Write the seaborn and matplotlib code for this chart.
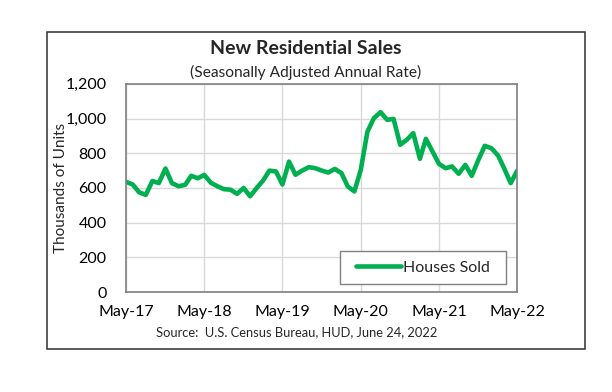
# Продажи нового жилья: линия по месяцам, май 2017 - май 2022

import numpy as np
import pandas as pd
import matplotlib
matplotlib.use('Agg')
import matplotlib.pyplot as plt
import matplotlib.dates as mdates
from matplotlib.patches import Rectangle
import seaborn as sns

# ДАННЫЕ (тыс. единиц, SAAR)
months = pd.date_range('2017-05-01', '2022-05-01', freq='MS')
houses_sold = [635, 620, 575, 560, 640, 628, 712, 628, 610, 618, 670, 656,
               675, 630, 610, 593, 590, 566, 600, 552, 600, 645, 700, 695,
               620, 752, 676, 700, 720, 714, 700, 689, 710, 685, 609, 580,
               705, 925, 1002, 1037, 993, 998, 849, 877, 916, 768, 883, 810,
               739, 714, 724, 682, 733, 670, 762, 843, 829, 787, 714, 628,
               699]
y_ticks = [0, 200, 400, 600, 800, 1000, 1200]
x_ticks = pd.date_range('2017-05-01', '2022-05-01', freq='12MS')

df = pd.DataFrame({'month': months, 'Houses Sold': houses_sold})

sns.set_style('white')
plt.rcParams['font.family'] = ['Lato', 'DejaVu Sans']

fig = plt.figure(figsize=(6.12, 3.92), dpi=100)
ax = fig.add_axes([0.206, 0.255, 0.639, 0.531])

sns.lineplot(data=df, x='month', y='Houses Sold', ax=ax, color='#00B050',
             linewidth=3.3, label='Houses Sold')

ax.set_ylim(0, 1200)
ax.set_yticks(y_ticks)
ax.set_yticklabels([f'{v:,}' for v in y_ticks])
ax.set_xlim(months[0], months[-1])
ax.set_xticks(x_ticks)
ax.xaxis.set_major_formatter(mdates.DateFormatter('%b-%y'))
ax.tick_params(axis='both', labelsize=11.5, length=0, colors='black')
ax.tick_params(axis='y', pad=14)
ax.tick_params(axis='x', pad=9)
ax.grid(True, color='#d9d9d9', linewidth=1)
for s in ax.spines.values():
    s.set_color('#808080')
    s.set_linewidth(1.2)
ax.set_xlabel('')
ax.set_ylabel('Thousands of Units', fontsize=11)
ax.yaxis.set_label_coords(-0.148, 0.5)

leg = ax.legend(loc='lower left', bbox_to_anchor=(0.547, 0.038, 0.425, 0.15),
                mode='expand', borderaxespad=0, fontsize=11.5,
                handlelength=2.8, handletextpad=0.1, borderpad=0.6,
                fancybox=False, framealpha=1, edgecolor='#808080')
leg.get_frame().set_linewidth(1)
for h in leg.get_lines():
    h.set_linewidth(3.3)
# содержимое легенды по центру рамки
leg._legend_handle_box.mode = 'fixed'

# заголовки и подпись источника
fig.text(0.50, 0.877, 'New Residential Sales', ha='center', va='center',
         fontsize=14, fontweight='bold')
fig.text(0.50, 0.814, '(Seasonally Adjusted Annual Rate)', ha='center',
         va='center', fontsize=11.2)
fig.text(0.485, 0.153, 'Source:  U.S. Census Bureau, HUD, June 24, 2022',
         ha='center', va='center', fontsize=9.3)

# внешняя рамка
fig.patches.append(Rectangle((0.077, 0.110), 0.879, 0.808,
                             transform=fig.transFigure, fill=False,
                             edgecolor='#404040', linewidth=1.2))

fig.savefig('out.png', dpi=100)
